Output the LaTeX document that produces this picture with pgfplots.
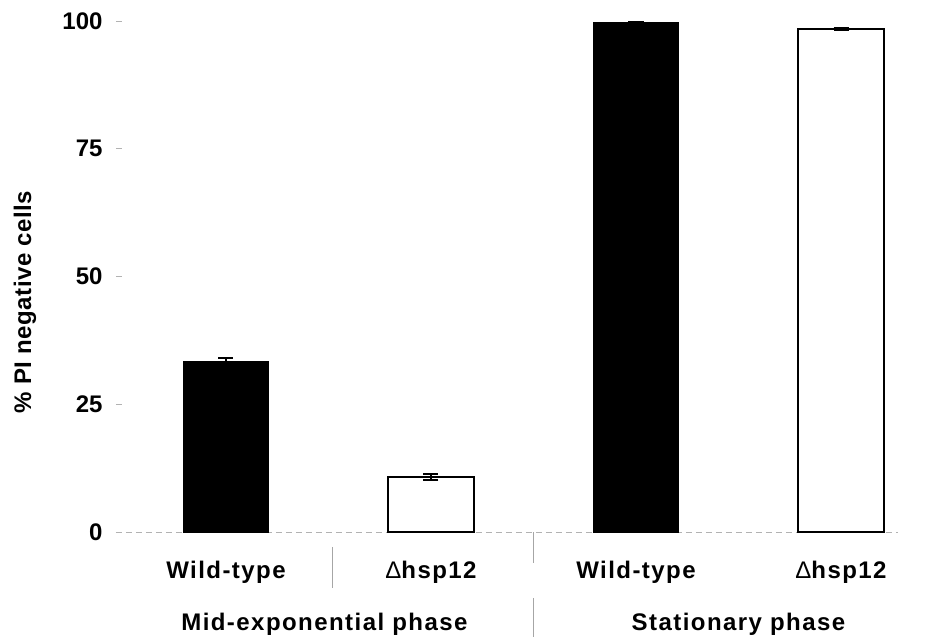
\documentclass[border=0pt]{standalone}
\usepackage{fontspec}
\setmainfont{Liberation Sans}
\newfontfamily\lblfont[LetterSpace=6]{Liberation Sans}
\newfontfamily\ylblfont[LetterSpace=2]{Liberation Sans}
\usepackage{pgfplots}
\pgfplotsset{compat=1.18}

% x position, mean, error
\pgfplotstableread{
x  y     e
0  33.3  0.7
2  99.6  0.25
}\wildtype
\pgfplotstableread{
x  y     e
1  10.8  0.6
3  98.4  0.25
}\mutant

\newcommand{\dhsp}{{\mdseries Δ}hsp12}

\begin{document}
\begin{tikzpicture}
\begin{axis}[
  scale only axis,
  width=391pt, height=255.5pt,
  xmin=-0.537, xmax=3.278,
  ymin=0, ymax=100,
  clip=false,
  axis x line*=bottom, axis y line*=left,
  x axis line style={draw=gray!60, densely dashed, -},
  y axis line style={draw=none},
  xtick=\empty,
  ytick={0,25,50,75,100},
  y tick style={draw=gray!60, thin},
  major tick length=3pt,
  tick align=inside,
  /pgf/number format/assume math mode=true,
  yticklabel style={font=\fontsize{12}{13}\selectfont\bfseries, inner sep=0pt, xshift=-6.5pt},
]
\addplot[ybar, bar width=42.5pt, bar shift=0pt, fill=black, draw=black, line width=0.8pt,
  error bars/.cd, y dir=both, y explicit,
  error bar style={black, line width=0.8pt},
  error mark options={black, line width=0.8pt, mark size=3.75pt, rotate=90}]
  table[x=x, y=y, y error=e] {\wildtype};
\addplot[ybar, bar width=42.5pt, bar shift=0pt, fill=white, draw=black, line width=1pt,
  error bars/.cd, y dir=both, y explicit,
  error bar style={black, line width=0.8pt},
  error mark options={black, line width=0.8pt, mark size=3.75pt, rotate=90}]
  table[x=x, y=y, y error=e] {\mutant};

% category and group labels
\begin{scope}[every node/.style={font=\lblfont\fontsize{12}{13}\selectfont\bfseries, inner sep=0pt, anchor=base}]
  \node at (axis cs:0,-9) {Wild-type};
  \node at (axis cs:1,-9) {\dhsp};
  \node at (axis cs:2,-9) {Wild-type};
  \node at (axis cs:3,-9) {\dhsp};
  \node at (axis cs:0.48,-19.2) {Mid-exponential phase};
  \node at (axis cs:2.5,-19.2) {Stationary phase};
\end{scope}
\node[rotate=90, font=\ylblfont\fontsize{12}{13}\selectfont\bfseries, inner sep=0pt]
  at (axis cs:-0.98,45) {\% PI negative cells};

% separators below the axis
\draw[gray!70, thin] (axis cs:0.517,-2.9) -- (axis cs:0.517,-10.9);
\draw[gray!70, thin] (axis cs:1.498,0) -- (axis cs:1.498,-6);
\draw[gray!70, thin] (axis cs:1.498,-12.9) -- (axis cs:1.498,-20.5);

\coordinate (bbsw) at (axis cs:-1.1024,-21.72);
\coordinate (bbne) at (axis cs:3.4537,104.11);
\end{axis}
\pgfresetboundingbox
\path[use as bounding box] (bbsw) rectangle (bbne);
\end{tikzpicture}
\end{document}
